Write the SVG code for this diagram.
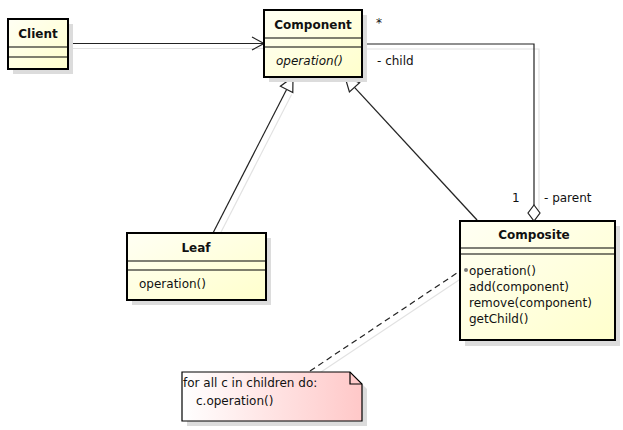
<svg xmlns="http://www.w3.org/2000/svg" width="623" height="430" viewBox="0 0 623 430">
<defs>
<linearGradient id="cls" x1="0" y1="0" x2="1" y2="1">
<stop offset="0" stop-color="#fffff4"/>
<stop offset="1" stop-color="#ffffcc"/>
</linearGradient>
<linearGradient id="note" x1="0" y1="0" x2="1" y2="0">
<stop offset="0" stop-color="#ffffff"/>
<stop offset="1" stop-color="#ffc8c8"/>
</linearGradient>
<style>
text{font-family:"DejaVu Sans","Liberation Sans",sans-serif;font-size:12px;fill:#111}
.b{font-weight:bold}
.i{font-style:italic}
.box{fill:url(#cls);stroke:#000;stroke-width:2}
.sh{fill:#dcdcdc}
.sep{stroke:#000;stroke-width:1.2}
.ln{stroke:#222;stroke-width:1.2;fill:none}
.lsh{stroke:#e2e2e2;stroke-width:1.2;fill:none}
</style>
</defs>
<g id="connectors">
<g id="shadows" transform="translate(5,5)">
<line class="lsh" x1="68" y1="43.5" x2="264" y2="43.5"/>
<polyline class="lsh" points="362,44 534,44 534,205"/>
<line class="lsh" x1="213" y1="233" x2="286.6" y2="89.4"/>
<line class="lsh" x1="477" y1="220" x2="354.5" y2="87.3"/>
<line class="lsh" x1="310" y1="371" x2="463" y2="269"/>
</g>
<line class="ln" x1="68" y1="43.5" x2="264" y2="43.5"/>
<polyline class="ln" points="252,37 264,43.5 252,50"/>
<polyline class="ln" points="362,44 534,44 534,205"/>
<polygon points="534,205 540,213 534,221 528,213" fill="#fff" stroke="#222" stroke-width="1.2"/>
<line class="ln" x1="213" y1="233" x2="286.6" y2="89.4"/>
<polygon points="293,77 292.8,92.6 280.4,86.2" fill="#fff" stroke="#222" stroke-width="1.2"/>
<line class="ln" x1="477" y1="220" x2="354.5" y2="87.3"/>
<polygon points="345,77 359.6,82.6 349.4,92" fill="#fff" stroke="#222" stroke-width="1.2"/>
<line class="ln" x1="310" y1="371" x2="463" y2="269" stroke-dasharray="6,4"/>
</g>
<g id="client">
<rect class="sh" x="13" y="24" width="60" height="50"/>
<rect class="box" x="8" y="19" width="60" height="50"/>
<line class="sep" x1="8" y1="47" x2="68" y2="47"/>
<line class="sep" x1="8" y1="57" x2="68" y2="57"/>
<text class="b" x="38" y="38" text-anchor="middle">Client</text>
</g>
<g id="component">
<rect class="sh" x="269" y="15" width="98" height="67"/>
<rect class="box" x="264" y="10" width="98" height="67"/>
<line class="sep" x1="264" y1="38" x2="362" y2="38"/>
<line class="sep" x1="264" y1="47" x2="362" y2="47"/>
<text class="b" x="313" y="29" text-anchor="middle">Component</text>
<text class="i" x="276" y="65">operation()</text>
</g>
<g id="labels">
<text x="376" y="27">*</text>
<text x="377" y="65">- child</text>
<text x="512" y="202">1</text>
<text x="544" y="202">- parent</text>
</g>
<g id="leaf">
<rect class="sh" x="132" y="238" width="139" height="67"/>
<rect class="box" x="127" y="233" width="139" height="67"/>
<line class="sep" x1="127" y1="261" x2="266" y2="261"/>
<line class="sep" x1="127" y1="270" x2="266" y2="270"/>
<text class="b" x="196" y="252" text-anchor="middle">Leaf</text>
<text x="139" y="288">operation()</text>
</g>
<g id="composite">
<rect class="sh" x="465" y="226" width="155" height="120"/>
<rect class="box" x="460" y="221" width="155" height="119"/>
<line class="sep" x1="460" y1="248" x2="615" y2="248"/>
<line class="sep" x1="460" y1="254" x2="615" y2="254"/>
<text class="b" x="534" y="239" text-anchor="middle">Composite</text>
<circle cx="466" cy="270" r="2" fill="#777"/>
<text x="469" y="275">operation()</text>
<text x="469" y="291">add(component)</text>
<text x="469" y="307">remove(component)</text>
<text x="469" y="323">getChild()</text>
</g>
<g id="note1">
<polygon points="187,377 355,377 367,389 367,426 187,426" fill="#dcdcdc"/>
<polygon points="182,372 350,372 362,384 362,421 182,421" fill="url(#note)" stroke="#000" stroke-width="1.2"/>
<polyline points="350,372 350,384 362,384" fill="none" stroke="#000" stroke-width="1.2"/>
<text x="183" y="387">for all c in children do:</text>
<text x="196" y="405">c.operation()</text>
</g>
</svg>
